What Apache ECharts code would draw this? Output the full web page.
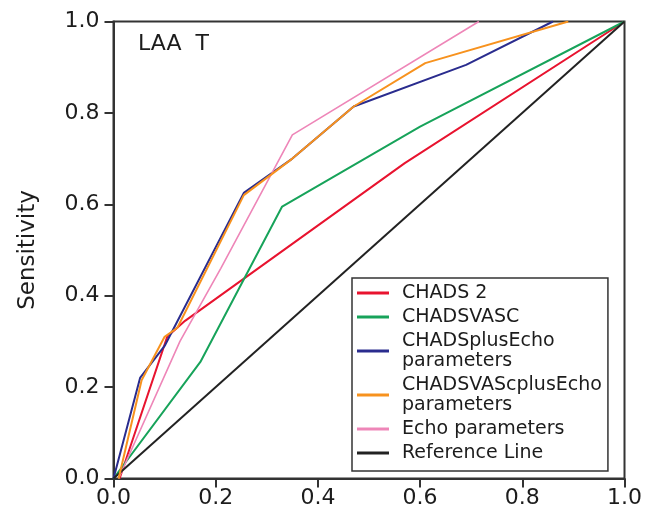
<!DOCTYPE html>
<html>
<head>
<meta charset="utf-8">
<script src="https://cdn.jsdelivr.net/npm/echarts@6/dist/echarts.min.js"></script>
<style>
  html, body { margin: 0; padding: 0; background: #fff; }
  #main { width: 645px; height: 512px; }
</style>
</head>
<body>
<div id="main"></div>
<script>
// ROC curves, LAA T panel
var seriesNames = ["CHADS 2", "CHADSVASC", "CHADSplusEcho\nparameters",
                   "CHADSVAScplusEcho\nparameters", "Echo parameters", "Reference Line"];
var seriesColors = ["#e8132f", "#17a35a", "#2a2c8e", "#f7921e", "#ee86b8", "#222222"];

// 1 - specificity (x) and sensitivity (y) for each curve
var fprChads2 = [0.012, 0.105, 0.14, 0.57, 1.0];
var tprChads2 = [0.0, 0.31, 0.345, 0.69, 1.0];

var fprVasc = [0.0, 0.17, 0.33, 0.6, 1.0];
var tprVasc = [0.0, 0.255, 0.595, 0.77, 1.0];

var fprChadsEcho = [0.0, 0.052, 0.1, 0.255, 0.35, 0.47, 0.69, 0.86];
var tprChadsEcho = [0.0, 0.22, 0.29, 0.625, 0.70, 0.814, 0.905, 1.0];

var fprVascEcho = [0.01, 0.055, 0.1, 0.125, 0.255, 0.35, 0.47, 0.61, 0.89];
var tprVascEcho = [0.0, 0.215, 0.31, 0.33, 0.62, 0.70, 0.814, 0.909, 1.0];

var fprEcho = [0.01, 0.13, 0.21, 0.35, 0.715];
var tprEcho = [0.0, 0.30, 0.46, 0.752, 1.0];

var fprRef = [0.0, 1.0];
var tprRef = [0.0, 1.0];

var axisTicks = [0.0, 0.2, 0.4, 0.6, 0.8, 1.0];

function pairs(xs, ys) {
    var out = [];
    for (var i = 0; i < xs.length; ++i) {
        out.push([xs[i], ys[i]]);
    }
    return out;
}

var curves = [
    pairs(fprChads2, tprChads2),
    pairs(fprVasc, tprVasc),
    pairs(fprChadsEcho, tprChadsEcho),
    pairs(fprVascEcho, tprVascEcho),
    pairs(fprEcho, tprEcho),
    pairs(fprRef, tprRef)
];

var font = "DejaVu Sans";
var ink = "#1c1c1c";

function valueAxis(isY) {
    var ax = {
        type: "value",
        min: axisTicks[0],
        max: axisTicks[axisTicks.length - 1],
        interval: 0.2,
        splitLine: { show: false },
        axisLine: { show: true, lineStyle: { color: "#333", width: 2 } },
        axisTick: { show: true, inside: false, length: 9, lineStyle: { color: "#333", width: 2 } },
        axisLabel: {
            color: ink,
            fontFamily: font,
            fontSize: 22,
            margin: isY ? 14 : 9,
            formatter: function (v) { return v.toFixed(1); }
        }
    };
    if (isY) {
        ax.name = "Sensitivity";
        ax.nameLocation = "middle";
        ax.nameRotate = 90;
        ax.nameGap = 74;
        ax.nameTextStyle = { color: ink, fontFamily: font, fontSize: 23 };
    }
    return ax;
}

var series = [];
for (var s = 0; s < curves.length; ++s) {
    series.push({
        name: seriesNames[s],
        type: "line",
        data: curves[s],
        symbol: "none",
        smooth: false,
        lineStyle: { color: seriesColors[s], width: s === 4 ? 1.6 : 2 },
        itemStyle: { color: seriesColors[s] },
        z: s === 3 ? 4 : 3
    });
}

var chart = echarts.init(document.getElementById("main"));
chart.setOption({
    backgroundColor: "#fff",
    animation: false,
    grid: {
        left: 113.5, right: 20, top: 21.5, bottom: 33.5,
        show: true, borderColor: "#333", borderWidth: 2, backgroundColor: "transparent"
    },
    xAxis: valueAxis(false),
    yAxis: valueAxis(true),
    title: {
        text: "LAA  T",
        left: 133, top: 28,
        textStyle: { color: ink, fontFamily: font, fontSize: 22, fontWeight: "normal" }
    },
    legend: {
        orient: "vertical",
        left: 352, top: 278,
        padding: [5, 6, 8, 5],
        itemGap: 4,
        itemWidth: 32,
        itemHeight: 3,
        icon: "rect",
        borderColor: "#333",
        borderWidth: 1.5,
        backgroundColor: "#fff",
        data: seriesNames,
        textStyle: {
            color: ink,
            fontFamily: font,
            fontSize: 19,
            lineHeight: 20,
            padding: [0, 0, 0, 8]
        }
    },
    series: series
});
</script>
</body>
</html>
